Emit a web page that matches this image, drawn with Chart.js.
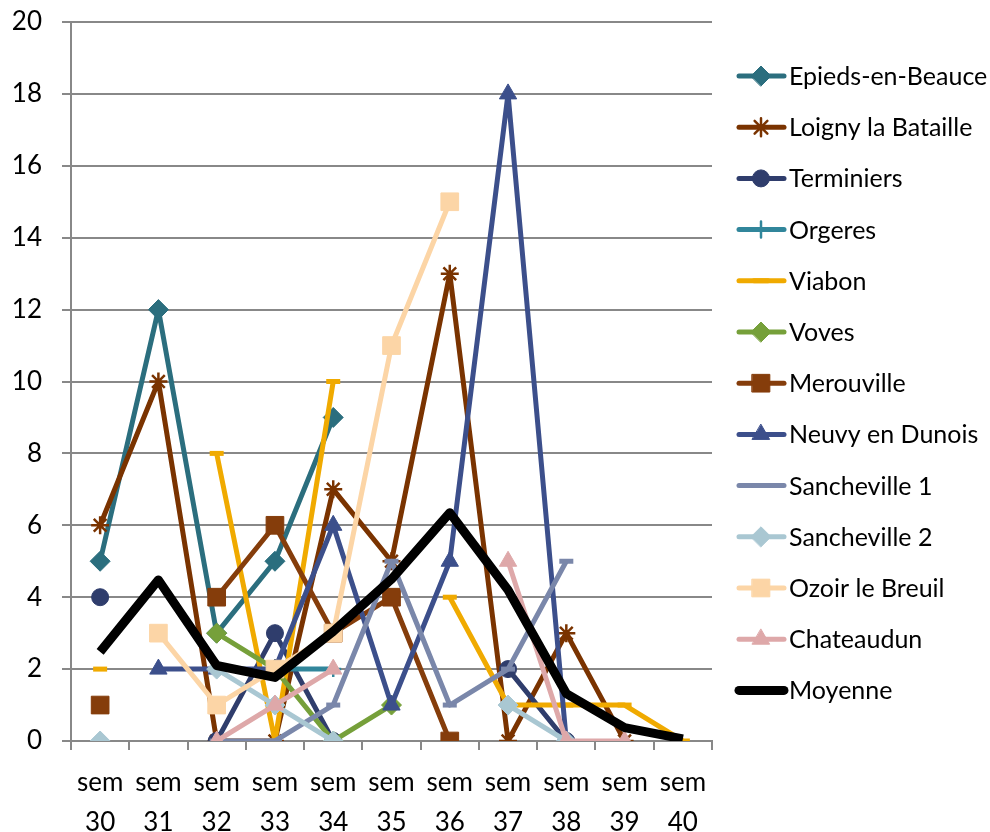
<!DOCTYPE html>
<html>
<head>
<meta charset="utf-8">
<script src="https://cdn.jsdelivr.net/npm/chart.js@4"></script>
<style>
  body { margin: 0; background: #fff; }
  #wrap { width: 990px; height: 832px; position: relative; }
</style>
</head>
<body>
<div id="wrap"><canvas id="chart"></canvas></div>
<script>
// semaines
const weeks = [30, 31, 32, 33, 34, 35, 36, 37, 38, 39, 40];

// valeurs par commune (null = pas de mesure)
const epieds      = [5, 12, 3, 5, 9, null, null, null, null, null, null];
const loigny      = [6, 10, 0, 0, 7, 5, 13, 0, 3, 0, null];
const terminiers  = [4, null, 0, 3, 0, null, null, 2, 0, null, null];
const orgeres     = [null, null, null, 2, 2, null, null, null, null, null, null];
const viabon      = [2, null, 8, 0, 10, null, 4, 1, 1, 1, 0];
const voves       = [null, null, 3, 2, 0, 1, null, null, null, null, null];
const merouville  = [1, null, 4, 6, 3, 4, 0, null, null, null, null];
const neuvy       = [null, 2, 2, 2, 6, 1, 5, 18, 0, null, null];
const sancheville1 = [null, null, 0, 0, 1, 5, 1, 2, 5, null, null];
const sancheville2 = [0, null, 2, 1, 0, null, null, 1, 0, null, null];
const ozoir       = [null, 3, 1, 2, 3, 11, 15, null, null, null, null];
const chateaudun  = [null, null, 0, 1, 2, null, null, 5, 0, 0, null];
const moyenne     = [2.48, 4.48, 2.1, 1.77, 3.05, 4.5, 6.35, 4.2, 1.32, 0.37, 0.06];

const FONT = 'Lato';

function serie(label, data, color, style, radius, pbw, lw) {
    return {
        label: label,
        data: data,
        borderColor: color,
        backgroundColor: color,
        borderWidth: lw || 5,
        pointStyle: style,
        pointRadius: radius,
        pointBorderWidth: pbw,
        pointBackgroundColor: color,
        pointBorderColor: color,
        pointHoverRadius: radius,
        borderJoinStyle: 'round',
        tension: 0,
        spanGaps: false
    };
}

const datasets = [
    serie('Epieds-en-Beauce', epieds, '#2B6E7E', 'rectRot', 10, 1),
    serie('Loigny la Bataille', loigny, '#7A3300', 'star', 9, 2.5),
    serie('Terminiers', terminiers, '#2F3D6C', 'circle', 8.5, 1),
    serie('Orgeres', orgeres, '#31869B', 'cross', 8, 2.5),
    serie('Viabon', viabon, '#F0AA00', 'line', 7, 5),
    serie('Voves', voves, '#76A03A', 'rectRot', 10, 1),
    serie('Merouville', merouville, '#853D0B', 'rect', 12.5, 1),
    serie('Neuvy en Dunois', neuvy, '#3C4F8B', 'triangle', 10, 1),
    serie('Sancheville 1', sancheville1, '#7A87AA', 'line', 7, 5),
    serie('Sancheville 2', sancheville2, '#A9C7D2', 'rectRot', 10, 1),
    serie('Ozoir le Breuil', ozoir, '#FCD5A6', 'rect', 12.5, 1),
    serie('Chateaudun', chateaudun, '#DEA8A9', 'triangle', 10, 1),
    serie('Moyenne', moyenne, '#000000', 'circle', 0, 0, 9)
];
// Moyenne au-dessus des autres
datasets.forEach((ds, i) => { ds.order = datasets.length - i; });

// légende à droite, dessinée à la main (ligne + marqueur)
const sideLegend = {
    id: 'sideLegend',
    afterDraw(chart) {
        const ctx = chart.ctx;
        datasets.forEach((ds, i) => {
            const y = 76 + i * 51.2;
            ctx.save();
            ctx.strokeStyle = ds.borderColor;
            ctx.fillStyle = ds.borderColor;
            ctx.lineWidth = ds.borderWidth;
            ctx.lineCap = 'round';
            ctx.beginPath();
            ctx.moveTo(739, y);
            ctx.lineTo(784, y);
            ctx.stroke();
            if (ds.pointRadius > 0) {
                ctx.lineWidth = ds.pointBorderWidth;
                Chart.helpers.drawPoint(ctx, {
                    pointStyle: ds.pointStyle,
                    radius: ds.pointRadius,
                    borderWidth: ds.pointBorderWidth,
                    rotation: 0
                }, 761, y);
            }
            ctx.fillStyle = '#000';
            ctx.font = '25px ' + FONT;
            ctx.textBaseline = 'middle';
            ctx.textAlign = 'left';
            ctx.fillText(ds.label, 789, y + 1);
            ctx.restore();
        });
    }
};

const ctx = document.getElementById('chart').getContext('2d');
new Chart(ctx, {
    type: 'line',
    data: {
        labels: weeks.map(w => ['sem', String(w)]),
        datasets: datasets
    },
    options: {
        responsive: true,
        maintainAspectRatio: false,
        animation: false,
        layout: { padding: { top: 22, right: 278, left: 0, bottom: 0 } },
        plugins: {
            legend: { display: false },
            tooltip: { enabled: false }
        },
        scales: {
            x: {
                offset: true,
                grid: {
                    offset: true,
                    drawOnChartArea: false,
                    drawTicks: true,
                    tickLength: 9,
                    color: '#888888',
                    lineWidth: 2
                },
                border: { display: true, color: '#888888', width: 2 },
                ticks: {
                    color: '#000',
                    font: { family: FONT, size: 26, lineHeight: 1.55 },
                    padding: 12,
                    maxRotation: 0,
                    autoSkip: false
                },
                afterFit(scale) {
                    scale.height = 91;
                    scale.paddingLeft = 0;
                    scale.paddingRight = 0;
                }
            },
            y: {
                min: 0,
                max: 20,
                ticks: {
                    stepSize: 2,
                    color: '#000',
                    font: { family: FONT, size: 26 },
                    padding: 20
                },
                grid: {
                    color: '#888888',
                    lineWidth: 2,
                    tickLength: 9
                },
                border: { display: true, color: '#888888', width: 2 },
                afterFit(scale) {
                    scale.width = 71;
                    scale.paddingTop = 0;
                    scale.paddingBottom = 0;
                }
            }
        }
    },
    plugins: [sideLegend]
});
</script>
</body>
</html>
